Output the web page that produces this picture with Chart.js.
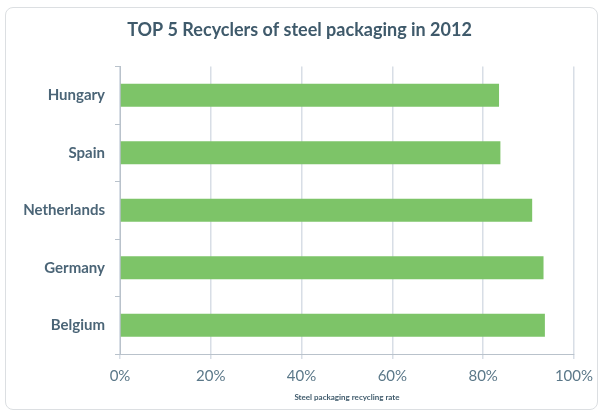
<!DOCTYPE html>
<html>
<head>
<meta charset="utf-8">
<script src="https://cdn.jsdelivr.net/npm/chart.js@4"></script>
<style>
  body { margin: 0; background: #fff; }
  .frame {
    position: absolute; left: 5px; top: 7px; width: 591px; height: 401px;
    border: 1px solid #dcdfe2; border-radius: 8px;
  }
  #chart { position: absolute; left: 0; top: 0; }
</style>
</head>
<body>
<div class="frame"></div>
<canvas id="chart" width="601" height="412"></canvas>
<script>
// data
const countries = ['Hungary', 'Spain', 'Netherlands', 'Germany', 'Belgium'];
const recyclingRate = [83.5, 83.8, 90.8, 93.3, 93.6];
const xTicks = [0, 20, 40, 60, 80, 100];

const textColor = '#4b6577';
const gridColor = '#d8dee6';

const ctx = document.getElementById('chart');

new Chart(ctx, {
  type: 'bar',
  data: {
    labels: countries,
    datasets: [{
      label: 'Steel packaging recycling rate',
      data: recyclingRate,
      backgroundColor: '#7dc468',
      borderWidth: 0,
      barPercentage: 0.4,
      categoryPercentage: 1.0
    }]
  },
  options: {
    indexAxis: 'y',
    responsive: false,
    animation: false,
    layout: { padding: { left: 24, right: 26, top: 0, bottom: 6 } },
    plugins: {
      legend: { display: false },
      tooltip: { enabled: false },
      title: {
        display: true,
        text: 'TOP 5 Recyclers of steel packaging in 2012',
        color: '#3f5a6b',
        font: { family: 'Lato', size: 18, weight: 'bold' },
        padding: { top: 19, bottom: 26 }
      }
    },
    scales: {
      x: {
        min: 0,
        max: 100,
        afterBuildTicks: (axis) => { axis.ticks = xTicks.map(v => ({ value: v })); },
        afterFit: (axis) => { axis.height = 52; },
        ticks: {
          color: '#5b7889',
          font: { family: 'Lato', size: 15 },
          padding: 8,
          callback: (v) => v + '%'
        },
        grid: { color: gridColor, lineWidth: 1.5, tickLength: 5 },
        border: { color: '#b9c2cb', width: 1 },
        title: {
          display: true,
          text: 'Steel packaging recycling rate',
          color: '#3f5a6b',
          font: { family: 'Lato', size: 8, weight: 'bold' },
          padding: { top: 1 }
        }
      },
      y: {
        afterFit: (axis) => { axis.width = 96; },
        ticks: {
          color: textColor,
          font: { family: 'Lato', size: 15, weight: 'bold' },
          padding: 10
        },
        grid: {
          offset: true,
          drawOnChartArea: false,
          drawTicks: true,
          tickLength: 5,
          color: '#b9c2cb'
        },
        border: { color: '#b9c2cb', width: 1 }
      }
    }
  }
});
</script>
</body>
</html>
